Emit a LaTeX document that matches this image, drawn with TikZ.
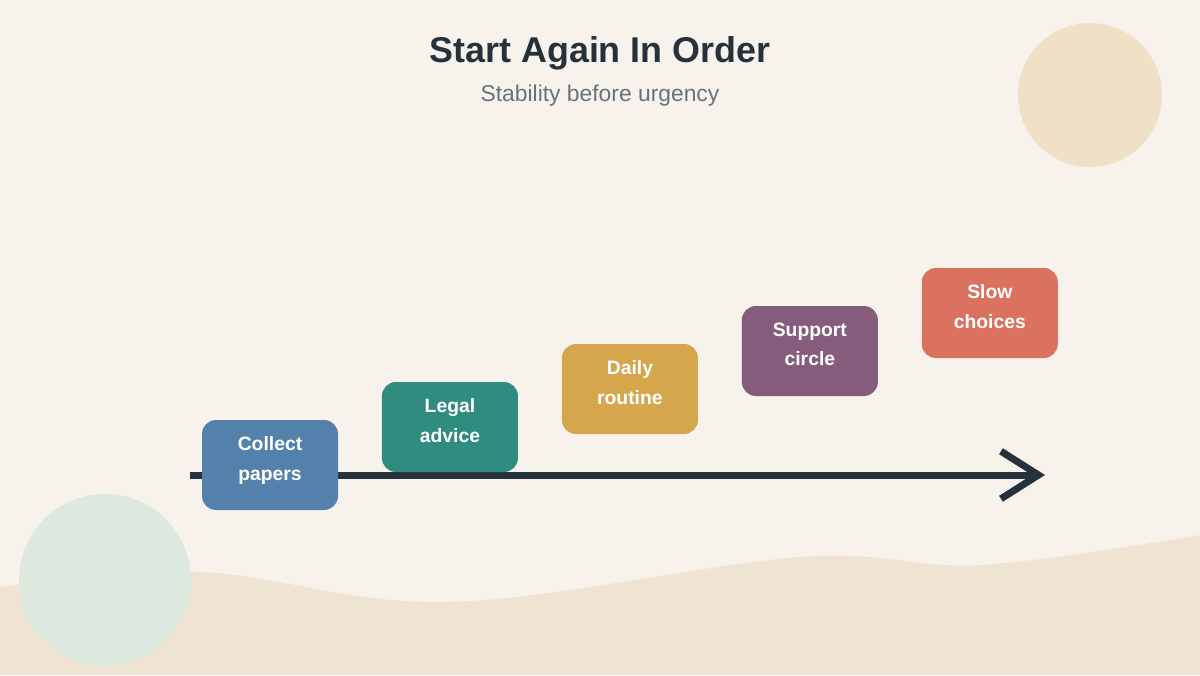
\documentclass[tikz,border=0pt]{standalone}
\usepackage{fontspec}
\setmainfont{Liberation Sans}
\usetikzlibrary{positioning, arrows.meta}
\definecolor{PaperBg}{RGB}{247, 243, 236}
\definecolor{SandWave}{RGB}{239, 228, 210}
\definecolor{SandDot}{RGB}{240, 224, 198}
\definecolor{SageDot}{RGB}{221, 232, 223}
\definecolor{InkDark}{RGB}{37, 50, 60}
\definecolor{InkSoft}{RGB}{102, 115, 124}
\definecolor{StageBlue}{RGB}{84, 129, 171}
\definecolor{StageTeal}{RGB}{47, 140, 126}
\definecolor{StageGold}{RGB}{213, 166, 76}
\definecolor{StagePlum}{RGB}{133, 92, 123}
\definecolor{StageCoral}{RGB}{219, 114, 96}

\begin{document}
\begin{tikzpicture}[
      stage/.style={rectangle, rounded corners=0.28cm, inner sep=0pt, minimum width=2.72cm, minimum height=1.8cm,
      text width=2.72cm, text depth=0.87cm, align=center, text=white, font=\fontsize{11}{17}\selectfont\bfseries},
      timeline/.style={line width=0.14cm, draw=InkDark, -{Straight Barb[length=0.75cm, width=0.95cm]}}
    ]
      % background, wave and dots
      \fill[PaperBg] (0,0) rectangle (24,13.5);
      \useasboundingbox (0,0) rectangle (24,13.5);
      \fill[SandWave] (0,0) -- plot[smooth, tension=0.6] coordinates {(0,1.76) (4,2.06) (9,1.46) (16,2.36) (19.6,2.2) (24,2.8)} -- (24,0) -- cycle;
      \fill[SandDot] (21.8,11.6) circle (1.44);
      \fill[SageDot] (2.1,1.9) circle (1.72);

      % title
      \node[text=InkDark, font=\fontsize{20.4}{24}\selectfont\bfseries] (title) at (12,12.44) {Start Again In Order};
      \node[text=InkSoft, font=\fontsize{13}{16}\selectfont, below=0.05cm of title] (subtitle) {Stability before urgency};

      % time line
      \coordinate (tstart) at (3.8,4.0);
      \coordinate (tend) at (20.9,4.0);
      \draw[timeline] (tstart) -- (tend);

      % stages
      \node[stage, fill=StageBlue] (papers) at (5.4,4.2) {Collect\\papers};
      \node[stage, fill=StageTeal, right=0.865cm of papers, yshift=0.76cm] (legal) {Legal\\advice};
      \node[stage, fill=StageGold, right=0.865cm of legal, yshift=0.76cm] (routine) {Daily\\routine};
      \node[stage, fill=StagePlum, right=0.865cm of routine, yshift=0.76cm] (support) {Support\\circle};
      \node[stage, fill=StageCoral, right=0.865cm of support, yshift=0.76cm] (choices) {Slow\\choices};
    \end{tikzpicture}
\end{document}
